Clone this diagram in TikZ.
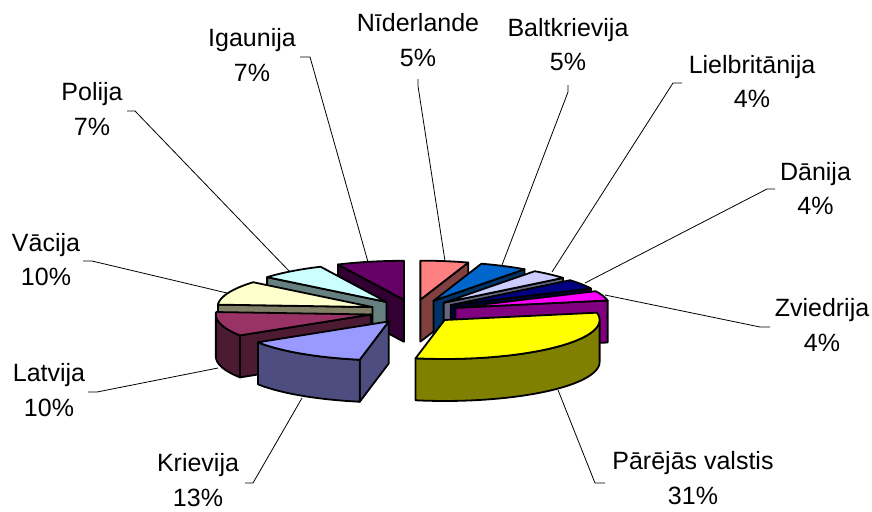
\documentclass[tikz,border=0pt]{standalone}
\usepackage{fontspec}
\setmainfont{Liberation Sans}
\definecolor{nid}{HTML}{FF8080}\definecolor{nidS}{HTML}{804040}
\definecolor{bal}{HTML}{0066CC}\definecolor{balS}{HTML}{003366}
\definecolor{lie}{HTML}{CCCCFF}\definecolor{lieS}{HTML}{666680}
\definecolor{dan}{HTML}{000080}\definecolor{danS}{HTML}{000040}
\definecolor{zvi}{HTML}{FF00FF}\definecolor{zviS}{HTML}{800080}
\definecolor{par}{HTML}{FFFF00}\definecolor{parS}{HTML}{808000}
\definecolor{kri}{HTML}{9999FF}\definecolor{kriS}{HTML}{4D4D80}
\definecolor{lat}{HTML}{993366}\definecolor{latS}{HTML}{4D1A33}
\definecolor{vac}{HTML}{FFFFCC}\definecolor{vacS}{HTML}{808066}
\definecolor{pol}{HTML}{CCFFFF}\definecolor{polS}{HTML}{668080}
\definecolor{iga}{HTML}{660066}\definecolor{igaS}{HTML}{330033}
\newcommand{\PieSlice}[4]{%
  \pgfmathsetmacro{\PSm}{(#1+#2)/2}%
  \pgfmathsetmacro{\PSax}{413.5+44*sin(\PSm)}%
  \pgfmathsetmacro{\PSay}{311.5-12*cos(\PSm)}%
  \pgfmathtruncatemacro{\PSs}{sin(#1)<-0.001 ? 1 : 0}%
  \pgfmathtruncatemacro{\PSe}{sin(#2)>0.001 ? 1 : 0}%
  \pgfmathsetmacro{\PSta}{max(#1,90)}%
  \pgfmathsetmacro{\PStb}{min(#2,270)}%
  \pgfmathtruncatemacro{\PSo}{\PSta<\PStb ? 1 : 0}%
  \ifnum\PSs=1
    \draw[face,fill=#4] (\PSax,\PSay) -- ({\PSax+155*sin(#1)},{\PSay-39*cos(#1)}) -- ({\PSax+155*sin(#1)},{\PSay+42-39*cos(#1)}) -- (\PSax,{\PSay+42}) -- cycle;
  \fi
  \ifnum\PSe=1
    \draw[face,fill=#4] (\PSax,\PSay) -- ({\PSax+155*sin(#2)},{\PSay-39*cos(#2)}) -- ({\PSax+155*sin(#2)},{\PSay+42-39*cos(#2)}) -- (\PSax,{\PSay+42}) -- cycle;
  \fi
  \ifnum\PSo=1
    \draw[face,fill=#4] plot[domain=\PSta:\PStb,samples=40] ({\PSax+155*sin(\x)},{\PSay-39*cos(\x)}) -- plot[domain=\PStb:\PSta,samples=40] ({\PSax+155*sin(\x)},{\PSay+42-39*cos(\x)}) -- cycle;
  \fi
  \draw[face,fill=#3] (\PSax,\PSay) -- plot[domain=#1:#2,samples=40] ({\PSax+155*sin(\x)},{\PSay-39*cos(\x)}) -- cycle;
}
\begin{document}
\begin{tikzpicture}[x=1pt,y=-1pt,
  face/.style={draw=black,line width=1.8pt,line join=round},
  leader/.style={draw=black,line width=0.8pt},
  lbl/.style={font=\fontsize{25}{34.5}\selectfont,align=center,inner sep=0pt,text=black}]
\useasboundingbox[fill=white] (0,0) rectangle (872,511);
% labels
\node[lbl] (lNid) at (418,40) {Nīderlande\\5\%};
\node[lbl] (lBal) at (568,44.5) {Baltkrievija\\5\%};
\node[lbl] (lLie) at (752,81.5) {Lielbritānija\\4\%};
\node[lbl] (lDan) at (815.5,188.5) {Dānija\\4\%};
\node[lbl] (lZvi) at (822,325) {Zviedrija\\4\%};
\node[lbl] (lPar) at (693,478) {Pārējās valstis\\31\%};
\node[lbl] (lKri) at (198,480) {Krievija\\13\%};
\node[lbl] (lLat) at (49,390) {Latvija\\10\%};
\node[lbl] (lVac) at (46,259.5) {Vācija\\10\%};
\node[lbl] (lPol) at (92,109) {Polija\\7\%};
\node[lbl] (lIga) at (252,55) {Igaunija\\7\%};
% leader coordinates
\coordinate (sNid) at (418,79);  \coordinate (kNid) at (418,86);  \coordinate (eNid) at (445,261);
\coordinate (sBal) at (568,85);  \coordinate (kBal) at (568,92);  \coordinate (eBal) at (502,265);
\coordinate (sLie) at (682,83);  \coordinate (kLie) at (673,83);  \coordinate (eLie) at (552,272);
\coordinate (sDan) at (775,189); \coordinate (kDan) at (767,189); \coordinate (eDan) at (585,283);
\coordinate (sZvi) at (770,327); \coordinate (kZvi) at (760,327); \coordinate (eZvi) at (605,295);
\coordinate (sPar) at (605,483); \coordinate (kPar) at (595,483); \coordinate (ePar) at (558,390);
\coordinate (sKri) at (245,483); \coordinate (kKri) at (253,483); \coordinate (eKri) at (302,398);
\coordinate (sLat) at (88,392);  \coordinate (kLat) at (97,392);  \coordinate (eLat) at (218,368);
\coordinate (sVac) at (83,261);  \coordinate (kVac) at (92,261);  \coordinate (eVac) at (227,293);
\coordinate (sPol) at (127,111); \coordinate (kPol) at (135,111); \coordinate (ePol) at (290,272);
\coordinate (sIga) at (300,57);  \coordinate (kIga) at (310,57);  \coordinate (eIga) at (368,262);
\foreach \n in {Nid,Bal,Lie,Dan,Zvi,Par,Kri,Lat,Vac,Pol,Iga}
  \draw[leader] (s\n) -- (k\n) -- (e\n);
% pie slices, back to front
\PieSlice{0}{18}{nid}{nidS}
\PieSlice{334.8}{360}{iga}{igaS}
\PieSlice{18}{36}{bal}{balS}
\PieSlice{309.6}{334.8}{pol}{polS}
\PieSlice{36}{50.4}{lie}{lieS}
\PieSlice{50.4}{64.8}{dan}{danS}
\PieSlice{273.6}{309.6}{vac}{vacS}
\PieSlice{64.8}{79.2}{zvi}{zviS}
\PieSlice{237.6}{273.6}{lat}{latS}
\PieSlice{79.2}{190.8}{par}{parS}
\PieSlice{190.8}{237.6}{kri}{kriS}
\end{tikzpicture}
\end{document}
